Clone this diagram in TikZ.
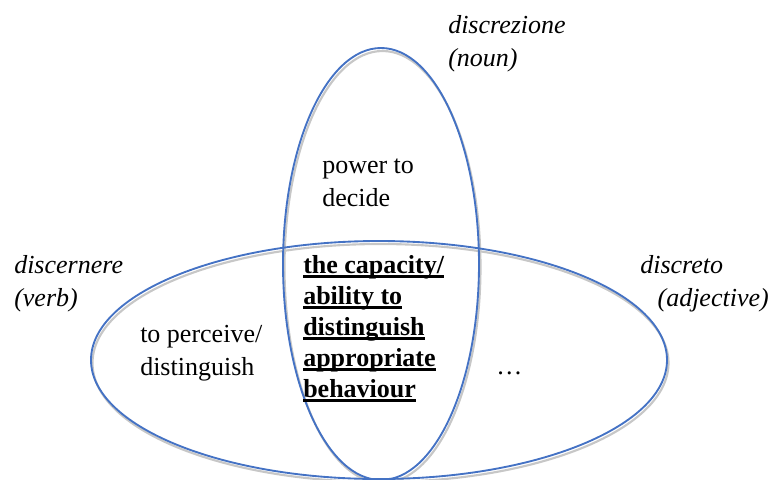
\documentclass[tikz,border=0pt]{standalone}
\usepackage{fontspec}
\setmainfont{Liberation Serif}
\newcommand{\thickul}[1]{\setbox0\hbox{#1}\rlap{\rule[-3.4pt]{\wd0}{1.6pt}}\box0}
\definecolor{setblue}{RGB}{68,114,196}
\tikzset{
  set line/.style={draw=setblue, line width=1.4pt},
  set shadow/.style={draw=black!22, line width=1.6pt},
  word/.style={anchor=base west, inner sep=0pt, align=left,
    font=\fontsize{19.5}{24.75}\selectfont},
  core/.style={word, font=\fontsize{19.5}{23.25}\selectfont\bfseries}
}

\begin{document}
\begin{tikzpicture}[x=0.75pt, y=-0.75pt]
    \useasboundingbox (0,0) rectangle (771,479);

    % shadows first, then the two sets
    \draw[set shadow] (382.5,267) ellipse [x radius=98, y radius=216];
    \draw[set shadow] (380.5,363) ellipse [x radius=288, y radius=119];

    \draw[set line] (381,264) ellipse [x radius=98, y radius=216];
    \draw[set line] (379,360) ellipse [x radius=288, y radius=119];

    % base anchor sits on the last line
    \node[word] (noun) at (448,66) {\itshape discrezione\\\itshape (noun)};
    \node[word] (verb) at (14,306) {\itshape discernere\\\itshape (verb)};
    \node[word] (adj) at (640,306) {\itshape discreto\\\itshape \hspace{13pt}(adjective)};

    \node[word] (power) at (322,206) {power to\\decide};
    \node[word] (perceive) at (140,375) {to perceive/\\distinguish};
    \node[word] (dots) at (496,374) {\ldots};

    \node[core] (capacity) at (303,397) {\thickul{the capacity/}\\\thickul{ability to}\\
      \thickul{distinguish}\\\thickul{appropriate}\\\thickul{behaviour}};
\end{tikzpicture}
\end{document}
